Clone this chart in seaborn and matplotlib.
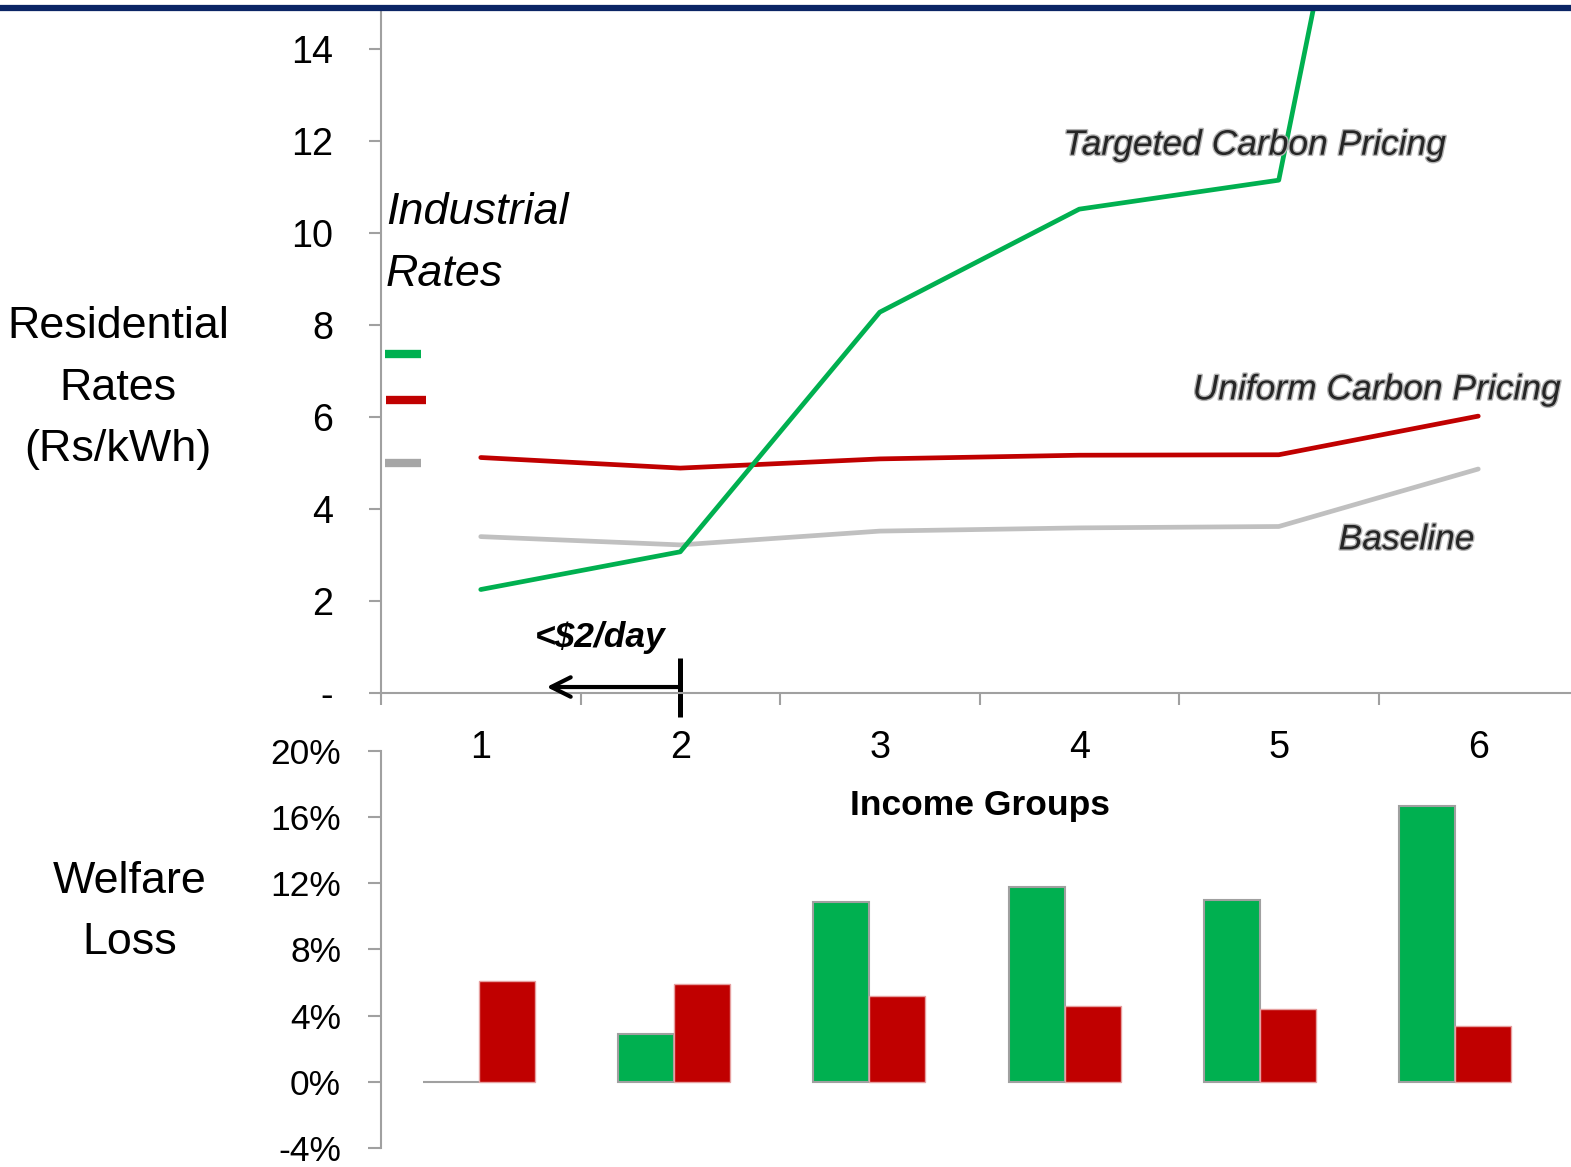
import matplotlib
matplotlib.use("Agg")
import matplotlib.pyplot as plt
import matplotlib.patheffects as pe
from matplotlib import font_manager as fm
from matplotlib.lines import Line2D
import numpy as np
import pandas as pd
import seaborn as sns

# ---- data -------------------------------------------------------------
income_groups = [1, 2, 3, 4, 5, 6]
series_names = ["Targeted Carbon Pricing", "Uniform Carbon Pricing", "Baseline"]

# residential electricity rates (Rs/kWh)
rate_targeted = [2.25, 3.07, 8.28, 10.52, 11.15, 32.6]
rate_uniform = [5.12, 4.89, 5.09, 5.17, 5.18, 6.02]
rate_baseline = [3.40, 3.22, 3.52, 3.59, 3.62, 4.87]

# industrial rates under each scenario (Rs/kWh)
industrial_rates = [7.37, 6.37, 5.00]

# welfare loss (% of income)
welfare_targeted = [0.0, 2.9, 10.9, 11.8, 11.0, 16.7]
welfare_uniform = [6.1, 5.9, 5.2, 4.6, 4.4, 3.35]

rate_ticks = [0, 2, 4, 6, 8, 10, 12, 14]
welfare_ticks = [-4, 0, 4, 8, 12, 16, 20]

GREEN = "#00b050"
RED = "#c00000"
GRAY = "#c0c0c0"
AXIS_GRAY = "#a0a0a0"
palette = {series_names[0]: GREEN, series_names[1]: RED, series_names[2]: GRAY}

# ---- fonts ------------------------------------------------------------
sns.set_theme(style="white")
available = {f.name for f in fm.fontManager.ttflist}
NARROW = "Liberation Sans Narrow" if "Liberation Sans Narrow" in available else "Liberation Sans"
SCALE = 1.0 if NARROW == "Liberation Sans Narrow" else 0.85
plt.rcParams["font.family"] = [NARROW, "DejaVu Sans"]
plt.rcParams.update({"text.color": "black", "axes.labelcolor": "black",
                     "xtick.labelcolor": "black", "ytick.labelcolor": "black"})


def fs(size):
    return size * SCALE


W, H = 1571, 1167
fig = plt.figure(figsize=(W / 100, H / 100), dpi=100)
fig.patch.set_facecolor("white")


def fx(px):
    return px / W


def fy(py):
    return 1 - py / H


# ---- lower panel: welfare loss bars ----------------------------------
ax_b = fig.add_axes([fx(381), fy(1148), fx(1553) - fx(381), fy(751) - fy(1148)])
ax_b.set_facecolor("none")
bars = pd.DataFrame({
    "group": income_groups * 2,
    "loss": welfare_targeted + welfare_uniform,
    "scenario": [series_names[0]] * 6 + [series_names[1]] * 6,
})
sns.barplot(data=bars, x="group", y="loss", hue="scenario",
            palette=palette, width=0.573, ax=ax_b, legend=False,
            saturation=1, linewidth=0)
for p, sc in zip(ax_b.patches, bars["scenario"]):
    if sc == series_names[0]:
        p.set_edgecolor("#a0a0a0")
        p.set_linewidth(1.5)
    else:
        p.set_edgecolor("#e6a0a0")
        p.set_linewidth(1.0)
ax_b.set_xlim(-0.5, 5.5)
ax_b.set_ylim(-4, 20)
ax_b.set_yticks(welfare_ticks)
ax_b.set_yticklabels([f"{t}%" for t in welfare_ticks])
ax_b.set_xticks([])
ax_b.set_xlabel("")
ax_b.set_ylabel("")
for s in ["top", "right", "bottom"]:
    ax_b.spines[s].set_visible(False)
ax_b.spines["left"].set_color(AXIS_GRAY)
ax_b.spines["left"].set_linewidth(1.5)
ax_b.tick_params(axis="y", length=9.4, width=1.5, color=AXIS_GRAY, direction="out",
                 labelsize=fs(30), pad=19.4, left=True, labelcolor="black")

# ---- upper panel: residential rates lines ----------------------------
ax = fig.add_axes([fx(381), fy(693), fx(1578) - fx(381), fy(10) - fy(693)])
ax.set_facecolor("none")
lines = pd.DataFrame({
    "group": income_groups * 3,
    "rate": rate_targeted + rate_uniform + rate_baseline,
    "scenario": [series_names[0]] * 6 + [series_names[1]] * 6 + [series_names[2]] * 6,
})
sns.lineplot(data=lines, x="group", y="rate", hue="scenario", palette=palette,
             hue_order=[series_names[2], series_names[1], series_names[0]],
             linewidth=3.4, ax=ax, legend=False)
ax.set_xlim(0.5, 6.5)
ax.set_ylim(0, 14.85)

ax.set_xticks(np.arange(0.5, 7.0, 1.0))
ax.set_xticklabels([])
ax.set_xticks(income_groups, minor=True)
ax.set_xticklabels([str(g) for g in income_groups], minor=True)
ax.tick_params(axis="x", which="major", length=8.6, width=1.5, color=AXIS_GRAY,
               direction="out", bottom=True)
ax.tick_params(axis="x", which="minor", length=0, labelsize=fs(32), pad=27,
               labelcolor="black")
ax.set_yticks(rate_ticks)
ax.set_yticklabels(["-" if t == 0 else str(t) for t in rate_ticks])
ax.tick_params(axis="y", length=8.6, width=1.5, color=AXIS_GRAY, direction="out",
               labelsize=fs(32), pad=26, left=True, labelcolor="black")
ax.set_xlabel("Income Groups", fontsize=fs(30), fontweight="bold", labelpad=16,
              color="black")
ax.set_ylabel("")
for s in ["top", "right"]:
    ax.spines[s].set_visible(False)
for s in ["left", "bottom"]:
    ax.spines[s].set_color(AXIS_GRAY)
    ax.spines[s].set_linewidth(1.5)

# industrial rate markers next to the axis
ax.text(0.525, 9.78, "Industrial\nRates", fontsize=fs(38), style="italic",
        ha="left", va="center", linespacing=1.65, color="black")
ax.hlines(industrial_rates, [0.52, 0.525, 0.52], [0.70, 0.725, 0.70],
          colors=[GREEN, RED, "#a6a6a6"], linewidth=6)

# series labels
halo = [pe.withStroke(linewidth=2, foreground="#b4b4b4")]
label_kw = dict(fontsize=fs(30), style="italic", color="#262626", va="center",
                path_effects=halo)
ax.text(3.92, 11.91, series_names[0], ha="left", **label_kw)
ax.text(6.41, 6.59, series_names[1], ha="right", **label_kw)
ax.text(5.98, 3.33, series_names[2], ha="right", **label_kw)

# poverty line marker
ax.text(1.60, 1.20, "<$2/day", fontsize=fs(30), style="italic", fontweight="bold",
        ha="center", va="center", color="black")
ax.annotate("", xy=(1.33, 0.13), xytext=(2.0, 0.13),
            arrowprops=dict(arrowstyle="->", lw=3, color="black", mutation_scale=35,
                            shrinkA=0, shrinkB=0),
            annotation_clip=False)
ax.plot([2.0, 2.0], [0.76, -0.52], color="black", lw=3.6, clip_on=False,
        solid_capstyle="butt")

# side titles
fig.text(fx(118), fy(388), "Residential\nRates\n(Rs/kWh)", fontsize=fs(38),
         ha="center", va="center", linespacing=1.65, color="black")
fig.text(fx(130), fy(912), "Welfare\nLoss", fontsize=fs(38),
         ha="center", va="center", linespacing=1.65, color="black")

# header rule
fig.add_artist(Line2D([0, 1], [fy(8), fy(8)], color="#0b2565", lw=4.5))

fig.savefig("out.png", dpi=100, facecolor="white")
